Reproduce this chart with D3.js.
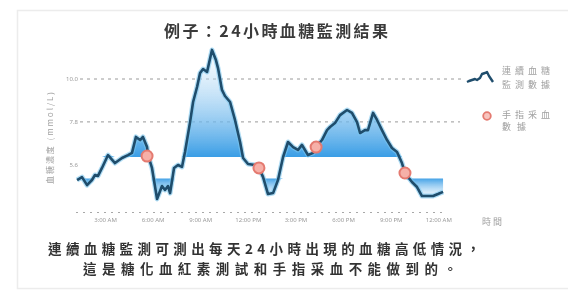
<!DOCTYPE html>
<html><head><meta charset="utf-8">
<script src="https://cdn.jsdelivr.net/npm/d3@7"></script>
<style>
html,body{margin:0;padding:0;background:#fff;}
svg{display:block;filter:blur(0.35px);}
text{font-family:"Noto Sans CJK TC","Noto Sans",sans-serif;}
</style></head>
<body><svg id="c" width="568" height="294"></svg>
<script>
// ---- data ----
const hours = [1.24,1.55,1.87,2.18,2.37,2.56,2.81,3.19,3.63,4.07,4.45,4.70,4.95,5.21,5.39,5.65,5.71,5.96,6.28,6.59,6.78,6.97,7.10,7.35,7.60,7.85,8.04,8.36,8.55,8.80,8.99,9.18,9.43,9.74,9.99,10.12,10.37,10.56,10.88,11.19,11.51,11.70,12.01,12.45,12.70,12.96,13.27,13.59,13.90,14.22,14.53,14.85,15.16,15.41,15.60,15.79,16.11,16.30,16.67,16.99,17.18,17.49,17.81,18.25,18.56,18.88,19.07,19.38,19.57,19.89,20.14,20.45,20.77,21.08,21.40,21.71,21.90,22.34,22.66,22.97,23.67,23.98,24.30];
const glucose = [4.82,4.97,4.56,4.82,5.08,5.03,5.44,6.10,5.69,5.95,6.10,6.21,7.03,6.87,7.03,6.51,6.10,5.44,3.85,4.51,4.31,4.51,4.15,5.44,5.59,5.49,6.26,7.79,8.82,9.59,10.31,10.51,10.36,11.49,10.97,10.56,9.44,9.13,8.82,7.90,6.77,5.95,5.64,5.59,5.44,4.97,4.10,4.15,4.82,6.00,6.77,6.51,6.36,6.62,6.36,6.10,6.21,6.51,6.87,7.38,7.54,7.74,8.15,8.41,8.26,7.79,7.23,7.38,7.38,8.26,7.90,7.38,6.87,6.46,6.26,5.69,5.18,4.72,4.46,4.00,4.00,4.10,4.21];
const fingerHours = [5.65, 12.70, 16.30, 21.90];
const fingerValues = [6.05, 5.44, 6.51, 5.18];
const xTickHours = [3,6,9,12,15,18,21,24];
const xTickLabels = ["3:00 AM","6:00 AM","9:00 AM","12:00 PM","3:00 PM","6:00 PM","9:00 PM","12:00 AM"];
const yTickValues = [10.0, 7.8, 5.6];
const yTickLabels = ["10.0","7.8","5.6"];
const gridValues = [10.0, 7.8];
const HIGH = 6.0, LOW = 4.9;
const title = "例子：24小時血糖監測結果";
const yTitle = "血糖濃度 (mmol/L)";
const xTitle = "時間";
const legendLine = ["連續血糖","監測數據"];
const legendDot = ["手指采血","數據"];
const caption = ["連續血糖監測可測出每天24小時出現的血糖高低情況，","這是糖化血紅素測試和手指采血不能做到的。"];

// ---- chart ----
const svg = d3.select("#c");
const x = d3.scaleLinear().domain([3,24]).range([105,438.3]);
const y = d3.scaleLinear().domain([3.18,10]).range([212,79]);
const pts = hours.map((h,i)=>({h, v:glucose[i]}));

// faint frame
svg.append("rect").attr("x",17.5).attr("y",10.5).attr("width",560).attr("height",278)
  .attr("fill","none").attr("stroke","#ececec").attr("stroke-width",1.5);

const defs = svg.append("defs");
const gUp = defs.append("linearGradient").attr("id","gUp").attr("gradientUnits","userSpaceOnUse")
  .attr("x1",0).attr("x2",0).attr("y1",y(HIGH)).attr("y2",y(11.4));
gUp.append("stop").attr("offset","0%").attr("stop-color","#2f98e4").attr("stop-opacity",0.95);
gUp.append("stop").attr("offset","100%").attr("stop-color","#e6f3fc").attr("stop-opacity",0.3);
const gDn = defs.append("linearGradient").attr("id","gDn").attr("gradientUnits","userSpaceOnUse")
  .attr("x1",0).attr("x2",0).attr("y1",y(LOW)).attr("y2",y(3.85));
gDn.append("stop").attr("offset","0%").attr("stop-color","#2f98e4").attr("stop-opacity",0.9);
gDn.append("stop").attr("offset","100%").attr("stop-color","#e6f3fc").attr("stop-opacity",0.3);

// title
svg.append("text").attr("x",276).attr("y",37).attr("text-anchor","middle")
  .attr("font-size",16).attr("font-weight","bold").attr("fill","#3a3a3a")
  .attr("textLength",224).attr("lengthAdjust","spacing").text(title);

// gridlines
svg.selectAll(".grid").data(gridValues).join("line")
  .attr("x1",80).attr("x2",(d,i)=>i===0?463:460).attr("y1",d=>y(d)).attr("y2",d=>y(d))
  .attr("stroke","#9a9a9a").attr("stroke-width",1).attr("stroke-dasharray","3,4");

// x baseline dashed
svg.append("line").attr("x1",76).attr("x2",447).attr("y1",212.5).attr("y2",212.5)
  .attr("stroke","#a8a8a8").attr("stroke-width",1.2).attr("stroke-dasharray","2,5");

// y axis labels
const yAx = svg.append("g").attr("transform","translate(79,0)")
  .call(d3.axisLeft(y).tickValues(yTickValues).tickSize(0).tickPadding(1).tickFormat((d,i)=>yTickLabels[i]));
yAx.select(".domain").remove();
yAx.selectAll("text").attr("font-size",6).attr("fill","#9a9a9a").style("font-family","Noto Sans, sans-serif");

// x axis labels
const xAx = svg.append("g").attr("transform","translate(0,218)")
  .call(d3.axisBottom(x).tickValues(xTickHours).tickSize(0).tickPadding(0).tickFormat((d,i)=>xTickLabels[i]));
xAx.select(".domain").remove();
xAx.selectAll("text").attr("font-size",6).attr("fill","#9a9a9a").style("font-family","Noto Sans, sans-serif");

// axis titles
svg.append("text").attr("transform","translate(53,138) rotate(-90)").attr("text-anchor","middle")
  .attr("font-size",8).attr("fill","#a0a0a0").attr("textLength",92).attr("lengthAdjust","spacing").text(yTitle);
svg.append("text").attr("x",493).attr("y",225).attr("text-anchor","middle")
  .attr("font-size",9).attr("fill","#a0a0a0").attr("letter-spacing",2).text(xTitle);

// fills (clamped at thresholds so nothing is drawn on the other side)
svg.append("path").datum(pts).attr("fill","url(#gUp)")
  .attr("d",d3.area().x(d=>x(d.h)).y0(y(HIGH)).y1(d=>y(Math.max(d.v,HIGH))));
svg.append("path").datum(pts).attr("fill","url(#gDn)")
  .attr("d",d3.area().x(d=>x(d.h)).y0(y(LOW)).y1(d=>y(Math.min(d.v,LOW))));

// line
const line = d3.line().x(d=>x(d.h)).y(d=>y(d.v));
svg.append("path").datum(pts).attr("fill","none").attr("stroke","#7cc6ee").attr("stroke-opacity",0.6)
  .attr("stroke-width",5).attr("stroke-linejoin","round").attr("d",line);
svg.append("path").datum(pts).attr("fill","none").attr("stroke","#1f4d6c")
  .attr("stroke-width",2.6).attr("stroke-linejoin","round").attr("d",line);

// finger-stick markers
svg.selectAll(".fs").data(fingerHours).join("circle")
  .attr("cx",d=>x(d)).attr("cy",(d,i)=>y(fingerValues[i])).attr("r",5.5)
  .attr("fill","#f6b0a8").attr("stroke","#e47a70").attr("stroke-width",2);

// legend
const iconX = [0,2,5,8,10,13,15,18,20,22,26];
const iconY = [0,-1,-2,-3,-2,-4,-8,-9,-10,-6,0];
svg.append("path").datum(iconX.map((d,i)=>[467+d,82+iconY[i]])).attr("fill","none")
  .attr("stroke","#1f4d6c").attr("stroke-width",2.4).attr("stroke-linejoin","round").attr("d",d3.line());
svg.append("circle").attr("cx",487).attr("cy",116).attr("r",3.8)
  .attr("fill","#f8c4be").attr("stroke","#e47a70").attr("stroke-width",1.8);
svg.selectAll(".l1").data(legendLine).join("text").attr("x",502).attr("y",(d,i)=>74+i*14)
  .attr("font-size",9).attr("fill","#a0a0a0").attr("textLength",d=>d.length*12).attr("lengthAdjust","spacing").text(d=>d);
svg.selectAll(".l2").data(legendDot).join("text").attr("x",502).attr("y",(d,i)=>118+i*12)
  .attr("font-size",9).attr("fill","#a0a0a0").attr("textLength",d=>d.length*12).attr("lengthAdjust","spacing").text(d=>d);

// caption
svg.append("text").attr("x",264).attr("y",254).attr("text-anchor","middle")
  .attr("font-size",13.5).attr("font-weight","bold").attr("fill","#333")
  .attr("textLength",432).attr("lengthAdjust","spacing").text(caption[0]);
svg.append("text").attr("x",270).attr("y",274).attr("text-anchor","middle")
  .attr("font-size",13.5).attr("font-weight","bold").attr("fill","#333")
  .attr("textLength",374).attr("lengthAdjust","spacing").text(caption[1]);
</script></body></html>
